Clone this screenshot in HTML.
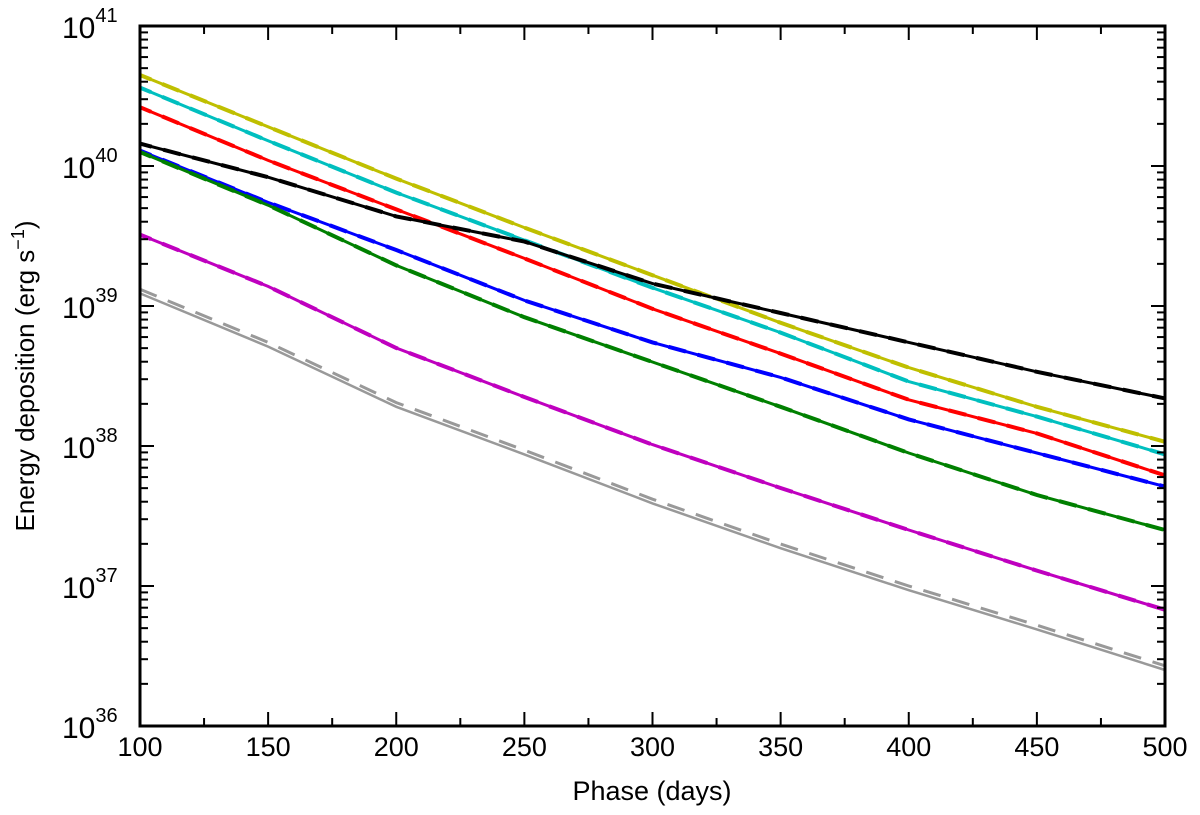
<!DOCTYPE html>
<html><head><meta charset="utf-8"><style>
body{margin:0;background:#fff;}
svg{display:block;font-family:"Liberation Sans","DejaVu Sans",sans-serif;}
</style></head><body>
<svg id="chart" width="1200" height="815" viewBox="0 0 1200 815" xmlns="http://www.w3.org/2000/svg">
<g id="series"></g>
<g id="axes"></g>
<text x="652" y="800" font-size="27" text-anchor="middle">Phase (days)</text>
<text transform="translate(34,376) rotate(-90)" font-size="26" text-anchor="middle">Energy deposition (erg s<tspan font-size="18" dy="-10">−1</tspan><tspan dy="10">)</tspan></text>
</svg>
<script>
const days = [100,150,200,250,300,350,400,450,500];
const yellow = [40.65,40.28,39.91,39.56,39.22,38.88,38.56,38.28,38.03];
const cyan = [40.56,40.18,39.81,39.47,39.13,38.81,38.46,38.21,37.94];
const red = [40.42,40.04,39.69,39.34,38.98,38.66,38.33,38.09,37.79];
const black = [40.16,39.92,39.64,39.46,39.16,38.95,38.74,38.53,38.34];
const blue = [40.11,39.74,39.40,39.04,38.74,38.49,38.19,37.95,37.71];
const green = [40.10,39.72,39.29,38.92,38.60,38.28,37.95,37.65,37.40];
const magenta = [39.51,39.14,38.70,38.35,38.01,37.70,37.40,37.11,36.83];
const gray = [39.09,38.71,38.28,37.94,37.59,37.27,36.97,36.69,36.40];
const grayDashed = [39.12,38.74,38.31,37.97,37.62,37.30,37.00,36.72,36.43];
const xTicks = [100,150,200,250,300,350,400,450,500];
const yDecades = [36,37,38,39,40,41];

const L=140,R=1165,T=26,B=726;
const xS=d=>L+(d-100)/400*(R-L);
const yS=v=>B-(v-36)/5*(B-T);
const NS="http://www.w3.org/2000/svg";
const sg=document.getElementById('series'), ag=document.getElementById('axes');
function mk(tag,attrs,parent){const e=document.createElementNS(NS,tag);for(const k in attrs)e.setAttribute(k,attrs[k]);parent.appendChild(e);return e;}

const series=[['yellow',yellow,'#bfbf00'],['cyan',cyan,'#00bfbf'],['red',red,'#ff0000'],['black',black,'#000000'],['blue',blue,'#0000ff'],['green',green,'#008000'],['magenta',magenta,'#bf00bf']];
function pts(arr){return arr.map((v,i)=>xS(days[i]).toFixed(1)+','+yS(v).toFixed(1)).join(' ');}
const gl=mk('polyline',{points:pts(gray),fill:'none',stroke:'#999999','stroke-width':2.5},sg);


const gd=mk('polyline',{points:pts(grayDashed),fill:'none',stroke:'#999999','stroke-width':3,'stroke-dasharray':'18,12'},sg);


series.forEach(([n,a,c])=>{
  const p=mk('polyline',{points:pts(a),fill:'none',stroke:c,'stroke-width':3},sg);
  
  
  const d=mk('polyline',{points:pts(a),fill:'none',stroke:c,'stroke-width':4,'stroke-dasharray':'18,12','stroke-dashoffset':'6'},sg);
  
  
});

const frame=mk('rect',{x:L,y:T,width:R-L,height:B-T,fill:'none',stroke:'#000','stroke-width':3},ag);


for(let d=100;d<=500;d+=25){
  const x=xS(d), len=(d%50===0)?14:8;
  mk('line',{x1:x,y1:B,x2:x,y2:B-len,stroke:'#000','stroke-width':2},ag);
  mk('line',{x1:x,y1:T,x2:x,y2:T+len,stroke:'#000','stroke-width':2},ag);
}
xTicks.forEach(d=>{
  const t=mk('text',{x:xS(d),y:B+30,'font-size':27,'text-anchor':'middle'},ag);
  t.textContent=d;
  
  
});
yDecades.forEach(dec=>{
  const y=yS(dec);
  mk('line',{x1:L,y1:y,x2:L+14,y2:y,stroke:'#000','stroke-width':2},ag);
  mk('line',{x1:R,y1:y,x2:R-14,y2:y,stroke:'#000','stroke-width':2},ag);
  const t=mk('text',{x:62,y:y+12,'font-size':30,'text-anchor':'start'},ag);
  
  
  t.innerHTML='10<tspan font-size="20" dy="-16">'+dec+'</tspan>';
  if(dec<41){for(let m=2;m<=9;m++){const ym=yS(dec+Math.log10(m));
    mk('line',{x1:L,y1:ym,x2:L+8,y2:ym,stroke:'#000','stroke-width':2},ag);
    mk('line',{x1:R,y1:ym,x2:R-8,y2:ym,stroke:'#000','stroke-width':2},ag);}}
});
</script>
</body></html>
